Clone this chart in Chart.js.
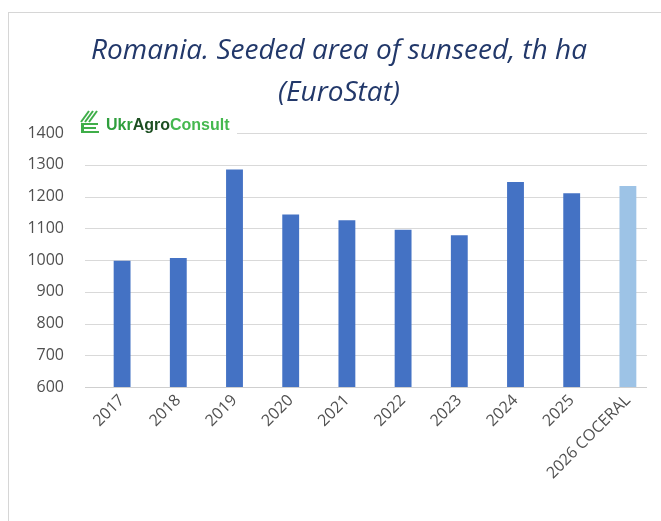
<!DOCTYPE html>
<html>
<head>
<meta charset="utf-8">
<title>Romania. Seeded area of sunseed</title>
<script src="https://cdn.jsdelivr.net/npm/chart.js@4/dist/chart.umd.min.js"></script>
<style>
  html, body { margin: 0; padding: 0; background: #ffffff; }
  #wrap { position: relative; width: 661px; height: 521px; overflow: hidden; }
  #frame {
    position: absolute; left: 8px; top: 12px; width: 700px; height: 560px;
    border-left: 1px solid #d6d6d6; border-top: 1px solid #d6d6d6;
  }
  #areaChart { position: absolute; left: 0; top: 0; }
</style>
</head>
<body>
<div id="wrap">
  <div id="frame"></div>
  <canvas id="areaChart" width="661" height="521"></canvas>
</div>
<script>
/* ---------- Data ---------- */
const years = ["2017", "2018", "2019", "2020", "2021", "2022", "2023", "2024", "2025", "2026 COCERAL"];
const seededArea = [998, 1006, 1285, 1143, 1125, 1095, 1078, 1246, 1210, 1233];
const forecastFlags = [false, false, false, false, false, false, false, false, false, true];
const yTicks = [600, 700, 800, 900, 1000, 1100, 1200, 1300, 1400];

const titleLines = ["Romania. Seeded area of sunseed, th ha", "(EuroStat)"];

const barBlue = "#4472c4";
const barLightBlue = "#9dc3e6";
const textGray = "#505050";
const gridGray = "#d9d9d9";

/* ---------- Plugins ---------- */
// horizontal grid, a bit wider than the plot area like the Excel original
const gridPlugin = {
  id: "wideGrid",
  beforeDatasetsDraw(chart) {
    const ctx = chart.ctx;
    const y = chart.scales.y;
    ctx.save();
    ctx.lineWidth = 1;
    yTicks.forEach((v) => {
      const py = Math.round(y.getPixelForValue(v)) + 0.5;
      ctx.strokeStyle = v === 600 ? "#cfcfcf" : gridGray;
      ctx.beginPath();
      ctx.moveTo(85, py);
      ctx.lineTo(647, py);
      ctx.stroke();
    });
    ctx.restore();
  }
};

const decorPlugin = {
  id: "decor",
  afterDraw(chart) {
    const ctx = chart.ctx;
    ctx.save();

    // title
    ctx.fillStyle = "#22386a";
    ctx.font = "italic 28px 'Open Sans'";
    ctx.textAlign = "center";
    ctx.textBaseline = "alphabetic";
    ctx.fillText(titleLines[0], 339, 59);
    ctx.fillText(titleLines[1], 339, 101);

    // logo (covers the 1400 grid line like in the source)
    ctx.fillStyle = "#ffffff";
    ctx.fillRect(76, 112, 161, 24);

    ctx.strokeStyle = "#3fae49";
    ctx.lineWidth = 2;
    for (let i = 0; i < 3; i++) {
      ctx.beginPath();
      ctx.moveTo(81 + i * 4, 122);
      ctx.lineTo(89 + i * 4, 111);
      ctx.stroke();
    }
    ctx.fillStyle = "#3fae49";
    ctx.fillRect(81, 123, 3, 10);
    ctx.fillRect(81, 123, 17, 2);
    ctx.fillRect(81, 127, 15, 2);
    ctx.fillRect(81, 131, 18, 2);

    ctx.textAlign = "left";
    ctx.textBaseline = "middle";
    ctx.font = "bold 16px 'Liberation Sans'";
    let x = 106;
    const parts = [["Ukr", "#2f9e3d"], ["Agro", "#1d4f22"], ["Consult", "#45b84f"]];
    parts.forEach(([t, c]) => {
      ctx.fillStyle = c;
      ctx.fillText(t, x, 126);
      x += ctx.measureText(t).width;
    });

    ctx.restore();
  }
};

/* ---------- Chart ---------- */
const ctx = document.getElementById("areaChart");

new Chart(ctx, {
  type: "bar",
  data: {
    labels: years,
    datasets: [
      {
        label: "Seeded area, th ha",
        data: seededArea,
        backgroundColor: forecastFlags.map((f) => (f ? barLightBlue : barBlue)),
        borderWidth: 0,
        barPercentage: 0.3,
        categoryPercentage: 1
      }
    ]
  },
  options: {
    responsive: false,
    animation: false,
    devicePixelRatio: 1,
    layout: {
      padding: { top: 133, right: 5, bottom: 34, left: 0 }
    },
    plugins: {
      legend: { display: false },
      tooltip: { enabled: false }
    },
    scales: {
      x: {
        grid: { display: false, drawTicks: false },
        border: { display: false },
        ticks: {
          color: textGray,
          font: { family: "'Open Sans'", size: 16 },
          minRotation: 45,
          maxRotation: 45,
          padding: 4,
          autoSkip: false
        },
        afterFit(scale) {
          scale.height = 100;
        }
      },
      y: {
        min: 600,
        max: 1400,
        grid: { display: false, drawTicks: false },
        border: { display: false },
        ticks: {
          stepSize: 100,
          color: textGray,
          font: { family: "'Open Sans'", size: 16 },
          padding: 30,
          callback: (value) => String(value)
        },
        afterFit(scale) {
          scale.width = 94;
        }
      }
    }
  },
  plugins: [gridPlugin, decorPlugin]
});
</script>
</body>
</html>
